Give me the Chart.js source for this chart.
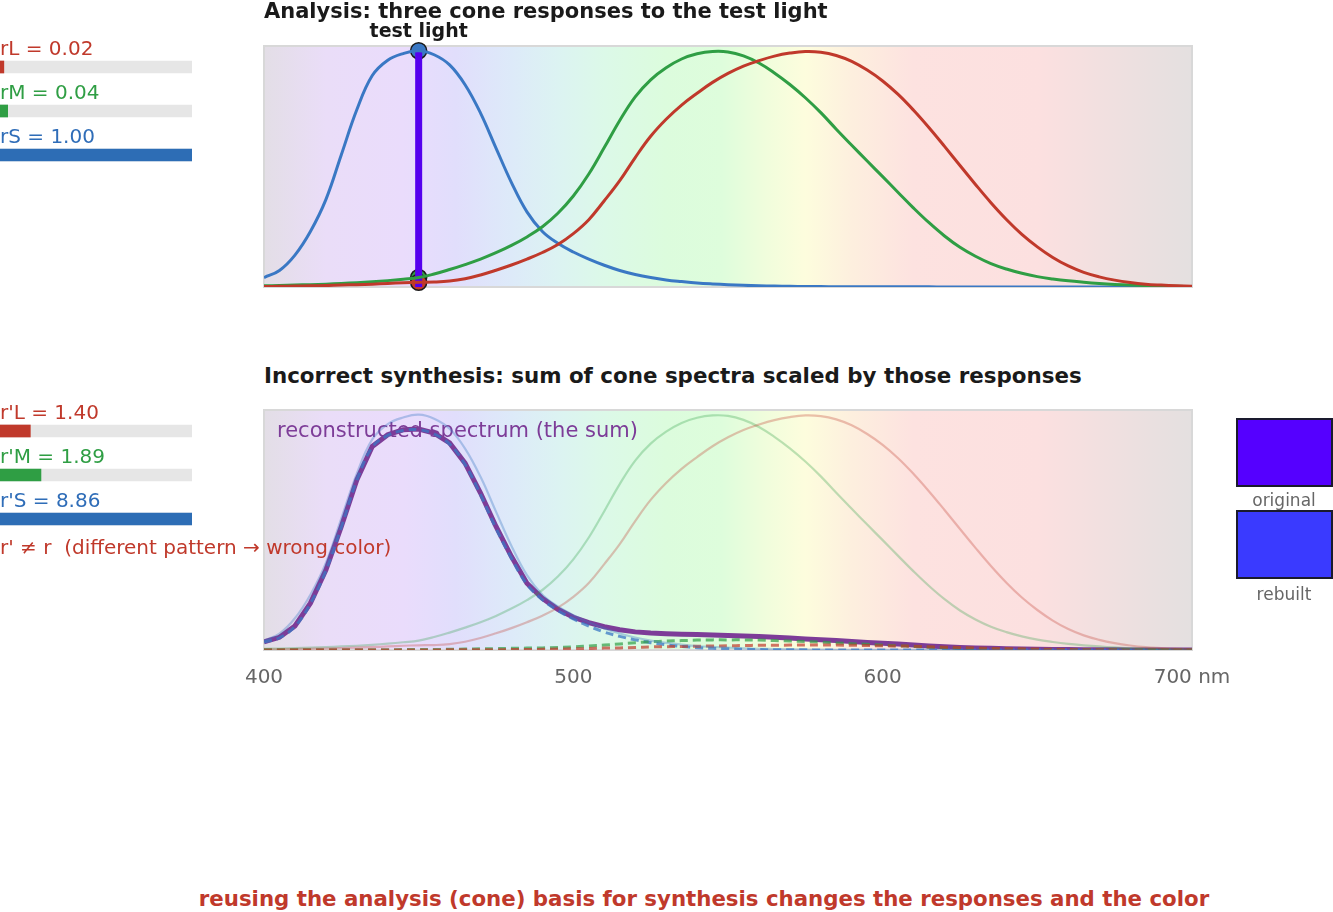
<!DOCTYPE html>
<html><head><meta charset="utf-8">
<script src="https://cdn.jsdelivr.net/npm/chart.js@4.4.1/dist/chart.umd.min.js"></script>
<style>
html,body{margin:0;padding:0;background:#fff;}
body{width:1333px;height:912px;position:relative;overflow:hidden;font-family:"DejaVu Sans",sans-serif;}
.abs{position:absolute;white-space:pre;line-height:1;}
canvas{position:absolute;}
.sw{position:absolute;box-sizing:border-box;border:2px solid #1a1a2e;width:97px;height:69px;left:1236px;}
</style></head><body>
<canvas id="topChart" width="970" height="285" style="left:244px;top:20px;width:970px;height:285px"></canvas>
<canvas id="botChart" width="1254" height="310" style="left:0px;top:390px;width:1254px;height:310px"></canvas>
<canvas id="barsTop" width="200" height="150" style="left:0px;top:30px;width:200px;height:150px"></canvas>
<canvas id="barsBot" width="200" height="150" style="left:0px;top:394px;width:200px;height:150px"></canvas>

<div class="abs" style="left:264px;top:1px;font-size:21px;font-weight:bold;color:#1a1a1a">Analysis: three cone responses to the test light</div>
<div class="abs" style="left:264px;top:365px;font-size:21.4px;font-weight:bold;color:#1a1a1a">Incorrect synthesis: sum of cone spectra scaled by those responses</div>
<div class="abs" style="left:704px;top:888px;transform:translateX(-50%);font-size:21.3px;font-weight:bold;color:#c0392b">reusing the analysis (cone) basis for synthesis changes the responses and the color</div>
<div class="sw" style="top:418px;background:#5500ff"></div>
<div class="abs" style="left:1284px;top:492px;transform:translateX(-50%);font-size:17px;color:#666">original</div>
<div class="sw" style="top:510px;background:#3a3aff"></div>
<div class="abs" style="left:1284px;top:586px;transform:translateX(-50%);font-size:17px;color:#666">rebuilt</div>

<script>
// ---------- data ----------
const wavelengths = [400,405,410,415,420,425,430,435,440,445,450,455,460,465,470,475,480,485,490,495,500,505,510,515,520,525,530,535,540,545,550,555,560,565,570,575,580,585,590,595,600,605,610,615,620,625,630,635,640,645,650,655,660,665,670,675,680,685,690,695,700];
const coneS = [0.04,0.07,0.135,0.235,0.37,0.56,0.75,0.895,0.96,0.988,
               1.0,0.983,0.94,0.856,0.736,0.588,0.442,0.318,0.235,0.185,
               0.148,0.118,0.092,0.07,0.053,0.04,0.03,0.023,0.017,0.013,
               0.01,0.007,0.005,0.004,0.003,0.002,0.002,0.001,0.001,0.001,
               0.001,0.001,0.001,0.001,0,0,0,0,0,0,
               0,0,0,0,0,0,0,0,0,0,0];
const coneM = [0.005,0.006,0.008,0.01,0.012,0.015,0.018,0.022,0.027,0.033,
               0.04,0.055,0.074,0.095,0.118,0.145,0.176,0.212,0.255,0.312,
               0.385,0.478,0.59,0.705,0.805,0.877,0.928,0.965,0.987,0.997,
               0.995,0.978,0.948,0.906,0.857,0.801,0.738,0.668,0.6,0.533,
               0.467,0.4,0.334,0.272,0.216,0.168,0.13,0.099,0.076,0.058,
               0.044,0.034,0.026,0.02,0.015,0.011,0.008,0.006,0.004,0.003,0.002];
const coneL = [0.002,0.003,0.004,0.005,0.006,0.008,0.01,0.012,0.015,0.018,
               0.02,0.021,0.025,0.035,0.051,0.071,0.093,0.118,0.146,0.18,
               0.226,0.285,0.365,0.45,0.548,0.638,0.71,0.77,0.82,0.866,
               0.904,0.935,0.958,0.977,0.99,0.997,0.994,0.98,0.955,0.918,
               0.872,0.815,0.748,0.674,0.595,0.514,0.434,0.357,0.286,0.223,
               0.17,0.125,0.089,0.062,0.043,0.029,0.019,0.012,0.008,0.005,0.003];
const reconSum = [0.035,0.054,0.102,0.199,0.34,0.525,0.723,0.865,0.915,0.936,
                  0.939,0.922,0.88,0.794,0.667,0.525,0.397,0.284,0.22,0.173,
                  0.139,0.116,0.099,0.086,0.077,0.072,0.069,0.067,0.066,0.064,
                  0.062,0.06,0.057,0.054,0.051,0.047,0.044,0.04,0.036,0.032,
                  0.029,0.025,0.021,0.017,0.014,0.011,0.009,0.007,0.005,0.004,
                  0.003,0.002,0.002,0.001,0.001,0.001,0,0,0,0,0];
const scaledS = [0.034,0.052,0.1,0.197,0.337,0.522,0.72,0.862,0.912,0.933,
                 0.936,0.918,0.875,0.788,0.66,0.517,0.39,0.279,0.214,0.168,
                 0.132,0.102,0.076,0.058,0.043,0.031,0.022,0.015,0.01,0.007,
                 0.005,0.003,0.002,0.001,0.001,0.001,0,0,0,0,
                 0,0,0,0,0,0,0,0,0,0,
                 0,0,0,0,0,0,0,0,0,0,0];
const scaledM = [0.001,0.001,0.001,0.001,0.001,0.001,0.001,0.001,0.001,0.002,
                 0.002,0.002,0.003,0.004,0.005,0.006,0.007,0.008,0.009,0.011,
                 0.013,0.017,0.021,0.026,0.031,0.035,0.038,0.04,0.042,0.043,
                 0.043,0.043,0.042,0.04,0.038,0.036,0.033,0.03,0.027,0.024,
                 0.021,0.018,0.015,0.012,0.01,0.008,0.006,0.005,0.004,0.003,
                 0.002,0.002,0.001,0.001,0.001,0.001,0,0,0,0,0];
const scaledL = [0,0,0,0,0,0,0,0,0,0,
                 0,0,0.001,0.001,0.001,0.001,0.002,0.002,0.003,0.004,
                 0.005,0.006,0.008,0.009,0.011,0.013,0.014,0.015,0.016,0.017,
                 0.018,0.019,0.02,0.02,0.021,0.021,0.021,0.021,0.02,0.019,
                 0.018,0.017,0.016,0.014,0.012,0.011,0.009,0.007,0.006,0.005,
                 0.004,0.003,0.002,0.001,0.001,0.001,0,0,0,0,0];
const testWavelength = 450;
const testHeight = 1.0;
const responseNames = ["rL","rM","rS"];
const responses = [0.02,0.04,1.00];
const synthNames = ["r'L","r'M","r'S"];
const synthResponses = [1.40,1.89,8.86];
const tickValues = [400,500,600,700];
const tickLabels = ["400","500","600","700 nm"];
const noteText = "r' \u2260 r  (different pattern \u2192 wrong color)";

// ---------- styles ----------
const RED = '#c0392b', GREEN = '#2f9e44', BLUE = '#3a78c4';
const TXT = ['#c0392b','#2f9e44','#2f6db8'];
const BAR = ['#c0392b','#2f9e44','#2d6db5'];
const bgStops = [[400,'rgb(227,222,230)'],[420,'rgb(234,221,248)'],[445,'rgb(234,220,252)'],[462,'rgb(225,222,252)'],
  [480,'rgb(221,234,249)'],[495,'rgb(220,243,242)'],[510,'rgb(220,249,232)'],[530,'rgb(220,252,221)'],[548,'rgb(222,253,220)'],
  [562,'rgb(240,253,220)'],[575,'rgb(253,253,221)'],[590,'rgb(253,239,222)'],[610,'rgb(253,226,224)'],[650,'rgb(252,224,224)'],
  [680,'rgb(237,224,224)'],[700,'rgb(228,224,224)']];

const xy = arr => wavelengths.map((w,i)=>({x:w,y:arr[i]}));
const alpha = (hex,a) => { const n=parseInt(hex.slice(1),16); return `rgba(${n>>16},${(n>>8)&255},${n&255},${a})`; };

const bgPlugin = {
  id:'bg',
  beforeDraw(chart){
    const {ctx, chartArea:a, scales:{x}} = chart;
    const g = ctx.createLinearGradient(a.left,0,a.right,0);
    bgStops.forEach(([w,c])=>g.addColorStop((x.getPixelForValue(w)-a.left)/(a.right-a.left), c));
    ctx.save(); ctx.fillStyle=g; ctx.fillRect(a.left,a.top,a.right-a.left,a.bottom-a.top);
    ctx.strokeStyle='#d8d8d8'; ctx.lineWidth=2; ctx.strokeRect(a.left,a.top,a.right-a.left,a.bottom-a.top);
    ctx.restore();
  }
};

const commonOpts = (pad) => ({
  responsive:false, animation:false, events:[],
  layout:{padding:pad},
  scales:{x:{type:'linear',min:400,max:700,display:false}, y:{min:0,max:1.02,display:false}},
  plugins:{legend:{display:false},tooltip:{enabled:false}},
  elements:{point:{radius:0}}
});

const curve = (arr,color,width,extra) => Object.assign({data:xy(arr),borderColor:color,borderWidth:width,pointRadius:0,fill:false,tension:0.4},extra||{});
const dot = (val,color) => ({data:[{x:testWavelength,y:val}],showLine:false,pointRadius:8,pointBackgroundColor:color,pointBorderColor:'#1a1a1a',pointBorderWidth:1.5,clip:false});

new Chart(document.getElementById('topChart'), {
  type:'line',
  data:{datasets:[
    curve(coneL,RED,3), curve(coneM,GREEN,3), curve(coneS,BLUE,3),
    {data:[{x:testWavelength,y:0},{x:testWavelength,y:testHeight}],borderColor:'#5500ee',borderWidth:7,pointRadius:0,clip:false},
    dot(responses[0],RED), dot(responses[1],GREEN), dot(responses[2],BLUE)
  ]},
  options:commonOpts({left:20,top:26,right:22,bottom:18}),
  plugins:[bgPlugin,{
    id:'tl',
    afterDraw(chart){
      const {ctx,chartArea:a,scales:{x}} = chart;
      ctx.save(); ctx.font='bold 19px "DejaVu Sans"'; ctx.fillStyle='#1a1a1a'; ctx.textAlign='center'; ctx.textBaseline='alphabetic';
      ctx.fillText('test light', x.getPixelForValue(testWavelength), a.top-9);
      ctx.restore();
    }
  }]
});

new Chart(document.getElementById('botChart'), {
  type:'line',
  data:{datasets:[
    curve(coneL,alpha(RED,0.3),2.2), curve(coneM,alpha(GREEN,0.3),2.2), curve(coneS,alpha(BLUE,0.35),2.2),
    curve(scaledL,alpha(RED,0.7),3,{borderDash:[8,5]}),
    curve(scaledM,alpha(GREEN,0.7),3,{borderDash:[8,5]}),
    curve(scaledS,alpha(BLUE,0.75),3,{borderDash:[8,5]}),
    curve(reconSum,'#7d3c98',5,{tension:0})
  ]},
  options:commonOpts({left:264,top:20,right:62,bottom:50}),
  plugins:[bgPlugin,{
    id:'lbl',
    beforeDatasetsDraw(chart){
      const {ctx,chartArea:a} = chart;
      ctx.save(); ctx.textBaseline='alphabetic';
      ctx.font='21px "DejaVu Sans"'; ctx.fillStyle='#7d3c98';
      ctx.fillText('reconstructed spectrum (the sum)', a.left+13, a.top+27);
      ctx.font='20px "DejaVu Sans"'; ctx.fillStyle='#c0392b';
      ctx.fillText(noteText, 0, a.top+144);
      ctx.restore();
    },
    afterDraw(chart){
      const {ctx,chartArea:a,scales:{x}} = chart;
      ctx.save(); ctx.font='20px "DejaVu Sans"'; ctx.fillStyle='#666'; ctx.textAlign='center'; ctx.textBaseline='alphabetic';
      tickValues.forEach((v,i)=>ctx.fillText(tickLabels[i], x.getPixelForValue(v), a.bottom+33));
      ctx.restore();
    }
  }]
});

function barPanel(id, names, vals){
  const max = Math.max(...vals);
  const track = vals.map(()=>max);
  new Chart(document.getElementById(id), {
    type:'bar',
    data:{labels:names, datasets:[
      {data:vals, backgroundColor:BAR, barThickness:12, grouped:false, order:1},
      {data:track, backgroundColor:'#e6e6e6', barThickness:12, grouped:false, order:2}
    ]},
    options:{
      indexAxis:'y', responsive:false, animation:false, events:[],
      layout:{padding:{left:0,right:8,top:15,bottom:3}},
      scales:{x:{display:false,min:0,max:max}, y:{display:false}},
      plugins:{legend:{display:false},tooltip:{enabled:false}}
    },
    plugins:[{
      id:'names',
      afterDraw(chart){
        const {ctx,chartArea:a,scales:{y}} = chart;
        ctx.save(); ctx.font='20px "DejaVu Sans"'; ctx.textBaseline='alphabetic';
        names.forEach((n,i)=>{ ctx.fillStyle=TXT[i]; ctx.fillText(n+' = '+vals[i].toFixed(2), a.left, y.getPixelForValue(i)-12); });
        ctx.restore();
      }
    }]
  });
}
barPanel('barsTop', responseNames, responses);
barPanel('barsBot', synthNames, synthResponses);
</script>
</body></html>
